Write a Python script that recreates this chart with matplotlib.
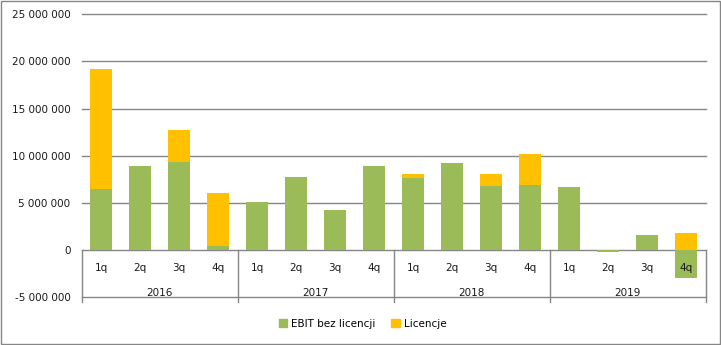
import numpy as np
import matplotlib
matplotlib.use('Agg')
from matplotlib import pyplot as plt
from matplotlib.patches import Rectangle, Patch

years = ['2016', '2017', '2018', '2019']
quarters = ['1q', '2q', '3q', '4q']
ebit = [6480000, 8920000, 9340000, 460000,
        5100000, 7750000, 4250000, 8920000,
        7640000, 9240000, 6790000, 6900000,
        6690000, -180000, 1590000, -2940000]
licencje = [12720000, 0, 3400000, 5590000,
            0, 0, 0, 0,
            430000, 0, 1280000, 3290000,
            0, 0, 0, 1800000]

green = '#9BBB59'
yellow = '#FFC000'
gray = '#868686'

plt.rcParams['font.family'] = 'DejaVu Sans'
plt.rcParams['font.size'] = 7.5

fig = plt.figure(figsize=(7.21, 3.45), dpi=100)
ax = fig.add_axes([0.1133, 0.1391, 0.8655, 0.8195])

x = np.arange(len(ebit))
ebit = np.array(ebit)
lic = np.array(licencje)
# excel stacks positives and negatives separately
lic_bottom = np.where(ebit > 0, ebit, 0)
ax.bar(x, ebit, 0.56, color=green, zorder=3)
ax.bar(x, lic, 0.56, bottom=lic_bottom, color=yellow, zorder=3)

ax.set_xlim(-0.5, len(x) - 0.5)
ax.set_ylim(-5000000, 25000000)
ticks = np.arange(-5000000, 25000001, 5000000)
ax.set_yticks(ticks)
ax.set_yticklabels(['{:,}'.format(t).replace(',', ' ') for t in ticks])
ax.tick_params(axis='y', length=0, pad=8, colors='#1a1a1a')
ax.set_xticks([])
for t in ticks:
    ax.axhline(t, color=gray, lw=1, zorder=1, clip_on=False)
for s in ax.spines.values():
    s.set_visible(False)

# category labels
for i in x:
    ax.text(i, -1900000, quarters[i % 4], ha='center', va='center', color='#1a1a1a', zorder=4)
for j, y in enumerate(years):
    ax.text(j * 4 + 1.5, -4560000, y, ha='center', va='center', color='#1a1a1a', zorder=4)
for j in range(len(years) + 1):
    ax.plot([j * 4 - 0.5, j * 4 - 0.5], [0, -5520000], color=gray, lw=1, clip_on=False, zorder=2)

handles = [Patch(color=green, label='EBIT bez licencji'), Patch(color=yellow, label='Licencje')]
fig.legend(handles=handles, loc='center', bbox_to_anchor=(0.503, 1 - 324 / 345), ncol=2,
           frameon=False, handlelength=0.8, handleheight=0.8, columnspacing=1.5, handletextpad=0.4)

fig.patches.append(Rectangle((0.001, 0.002), 0.997, 0.995, transform=fig.transFigure,
                             fill=False, edgecolor=gray, lw=1))

fig.savefig('out.png', dpi=100)
